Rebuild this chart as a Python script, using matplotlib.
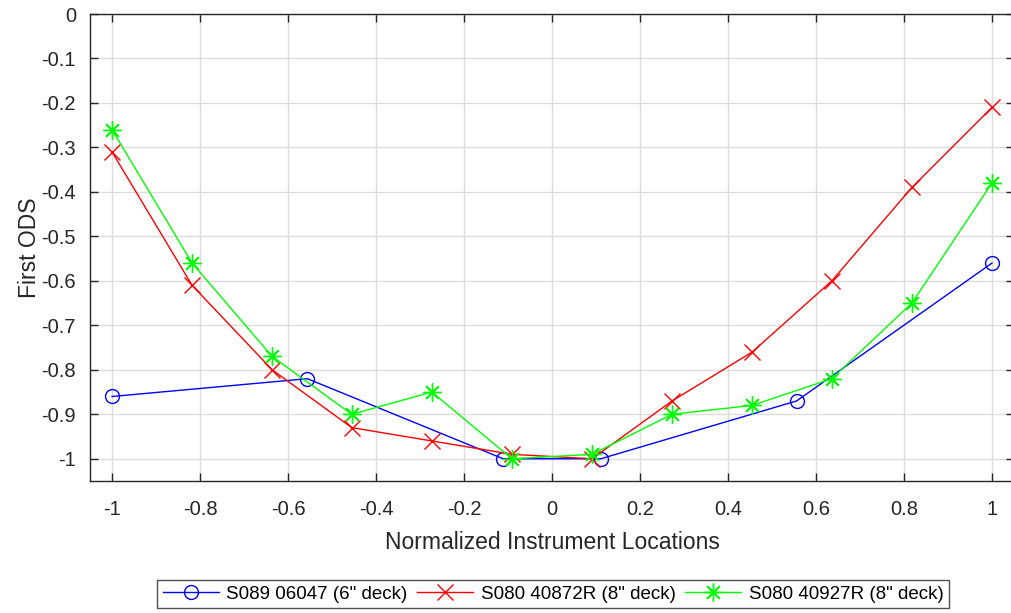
import matplotlib
matplotlib.use('Agg')
from matplotlib import pyplot as plt

# data
x_blue = [-1, -0.556, -0.111, 0.111, 0.556, 1]
y_blue = [-0.86, -0.82, -1.0, -1.0, -0.87, -0.56]

x_12 = [-1, -0.818, -0.636, -0.455, -0.273, -0.091, 0.091, 0.273, 0.455, 0.636, 0.818, 1]
y_red = [-0.31, -0.61, -0.80, -0.93, -0.96, -0.99, -1.0, -0.87, -0.76, -0.60, -0.39, -0.21]
y_green = [-0.26, -0.56, -0.77, -0.90, -0.85, -1.0, -0.99, -0.90, -0.88, -0.82, -0.65, -0.38]

labels = ['S089 06047 (6" deck)', 'S080 40872R (8" deck)', 'S080 40927R (8" deck)']
xticks = [-1, -0.8, -0.6, -0.4, -0.2, 0, 0.2, 0.4, 0.6, 0.8, 1]
yticks = [0, -0.1, -0.2, -0.3, -0.4, -0.5, -0.6, -0.7, -0.8, -0.9, -1]

plt.rcParams['font.family'] = ['Liberation Sans', 'DejaVu Sans']

fig = plt.figure(figsize=(10.11, 6.13), dpi=100)
ax = fig.add_axes([90 / 1011, 132 / 613, 924 / 1011, 467 / 613])

ax.plot(x_blue, y_blue, color='#0000ff', lw=1, marker='o', ms=10, mfc='none', mew=1, label=labels[0])
ax.plot(x_12, y_red, color='#ff0000', lw=1, marker='x', ms=12, mew=1, label=labels[1])
ax.plot(x_12, y_green, color='#00ff00', lw=1, marker=(8, 2, 0), ms=13, mew=1, label=labels[2])

ax.set_xlim(-1.05, 1.05)
ax.set_ylim(-1.05, 0)
ax.set_xticks(xticks)
ax.set_xticklabels(['-1', '-0.8', '-0.6', '-0.4', '-0.2', '0', '0.2', '0.4', '0.6', '0.8', '1'])
ax.set_yticks(yticks)
ax.set_yticklabels(['0', '-0.1', '-0.2', '-0.3', '-0.4', '-0.5', '-0.6', '-0.7', '-0.8', '-0.9', '-1'])
ax.grid(True, color='#dcdcdc', lw=1)
ax.set_axisbelow(True)
ax.tick_params(direction='in', length=6, width=1, top=True, right=True,
               labelsize=14.5, colors='#262626')
ax.tick_params(axis='x', pad=14)
ax.tick_params(axis='y', pad=10)
for s in ax.spines.values():
    s.set_color('#262626')
    s.set_linewidth(1)

ax.set_xlabel('Normalized Instrument Locations', fontsize=16.5, color='#262626', labelpad=8)
ax.set_ylabel('First ODS', fontsize=16.5, color='#262626', labelpad=0)

leg = fig.legend(loc='center', bbox_to_anchor=(553 / 1011, 19 / 613), ncol=3, fontsize=13.5,
                 frameon=True, fancybox=False, edgecolor='#262626', handlelength=3.0,
                 columnspacing=0.5, handletextpad=0.4, borderpad=0.3)
leg.get_frame().set_linewidth(1)

fig.savefig('out.png', dpi=100)
